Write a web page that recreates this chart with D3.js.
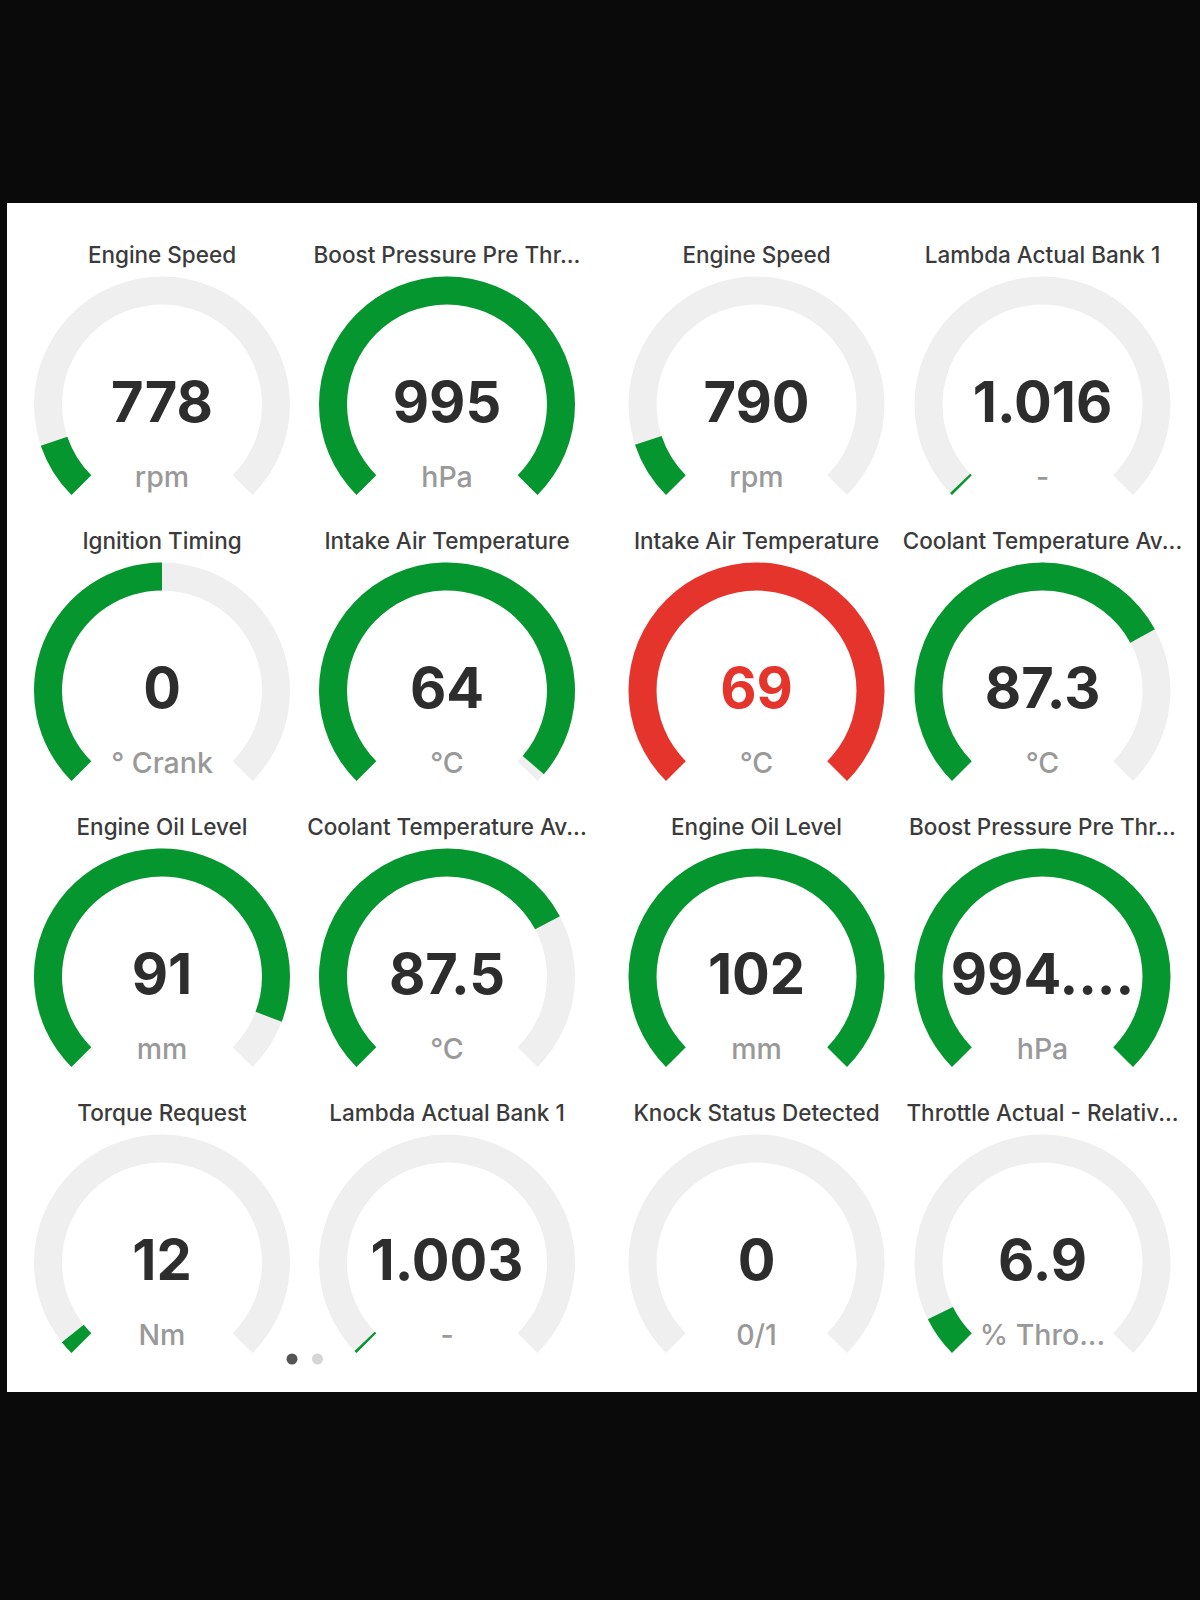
<!DOCTYPE html>
<html>
<head>
<meta charset="utf-8">
<script src="https://cdn.jsdelivr.net/npm/d3@7"></script>
<style>
  body { margin: 0; background: #0a0a0a; }
  svg { display: block; }
</style>
</head>
<body>
<div id="chart"></div>
<script>
// gauge data (row by row, left to right)
const titles = [
  "Engine Speed", "Boost Pressure Pre Thr...", "Engine Speed", "Lambda Actual Bank 1",
  "Ignition Timing", "Intake Air Temperature", "Intake Air Temperature", "Coolant Temperature Av...",
  "Engine Oil Level", "Coolant Temperature Av...", "Engine Oil Level", "Boost Pressure Pre Thr...",
  "Torque Request", "Lambda Actual Bank 1", "Knock Status Detected", "Throttle Actual - Relativ..."
];
const values = [778, 995, 790, 1.016, 0, 64, 69, 87.3, 91, 87.5, 102, 994.6, 12, 1.003, 0, 6.9];
const valueLabels = ["778", "995", "790", "1.016", "0", "64", "69", "87.3", "91", "87.5", "102", "994....", "12", "1.003", "0", "6.9"];
const units = ["rpm", "hPa", "rpm", "-", "° Crank", "°C", "°C", "°C", "mm", "°C", "mm", "hPa", "Nm", "-", "0/1", "% Thro..."];
const minValues = [0, 0, 0, 1, -45, 0, 0, 0, 0, 0, 0, 0, 0, 1, 0, 0];
const maxValues = [8000, 990, 8000, 5, 45, 65, 65, 120, 100, 120, 100, 990, 500, 5, 1, 100];
// values above this limit switch the gauge to the alarm colour
const alarmLimits = [null, null, null, null, null, null, 65, null, null, null, null, null, null, null, null, null];

const columnX = [162, 447, 756.5, 1042.5];
const rowY = [404.5, 690.5, 976.5, 1262.5];

const width = 1200, height = 1600;
const outerR = 128, innerR = 100;
const a0 = -Math.PI * 3 / 4, a1 = Math.PI * 3 / 4;
const green = "#06962f", red = "#e5342b", track = "#efefef";

const svg = d3.select("#chart").append("svg")
  .attr("width", width)
  .attr("height", height)
  .attr("font-family", "Inter, 'Noto Sans', sans-serif");

svg.append("rect")
  .attr("x", 7).attr("y", 203)
  .attr("width", 1190).attr("height", 1189)
  .attr("fill", "#fff");

const arc = d3.arc().innerRadius(innerR).outerRadius(outerR);

const gauges = svg.selectAll("g.gauge")
  .data(titles.map((t, i) => ({
    title: t, value: values[i], label: valueLabels[i], unit: units[i],
    min: minValues[i], max: maxValues[i], limit: alarmLimits[i],
    x: columnX[i % 4], y: rowY[Math.floor(i / 4)]
  })))
  .join("g")
  .attr("class", "gauge")
  .attr("transform", d => `translate(${d.x},${d.y})`);

gauges.append("path")
  .attr("fill", track)
  .attr("d", arc({ startAngle: a0, endAngle: a1 }));

gauges.each(function (d) {
  const angle = d3.scaleLinear().domain([d.min, d.max]).range([a0, a1]).clamp(true);
  let end = angle(d.value);
  if (d.value > d.min && end - a0 < 0.022) end = a0 + 0.022; // keep a thin sliver visible
  const alarm = d.limit != null && d.value > d.limit;
  d.color = alarm ? red : green;
  d.alarm = alarm;
  if (end > a0) {
    d3.select(this).append("path")
      .attr("fill", d.color)
      .attr("d", arc({ startAngle: a0, endAngle: end }));
  }
});

gauges.append("text")
  .attr("y", -142)
  .attr("text-anchor", "middle")
  .attr("font-size", 22.5)
  .attr("font-weight", 500)
  .attr("fill", "#3b3b3b")
  .text(d => d.title);

gauges.append("text")
  .attr("y", 17.5)
  .attr("text-anchor", "middle")
  .attr("font-size", 56)
  .attr("font-weight", 700)
  .attr("fill", d => d.alarm ? red : "#2d2d2d")
  .text(d => d.label);

gauges.append("text")
  .attr("y", 82)
  .attr("text-anchor", "middle")
  .attr("font-size", 28.5)
  .attr("font-weight", 500)
  .attr("fill", "#999")
  .text(d => d.unit);

// page indicator
svg.selectAll("circle.dot")
  .data(["#555", "#d6d6d6"])
  .join("circle")
  .attr("class", "dot")
  .attr("cx", (d, i) => 292 + i * 25.5)
  .attr("cy", 1359)
  .attr("r", 5.5)
  .attr("fill", d => d);
</script>
</body>
</html>
